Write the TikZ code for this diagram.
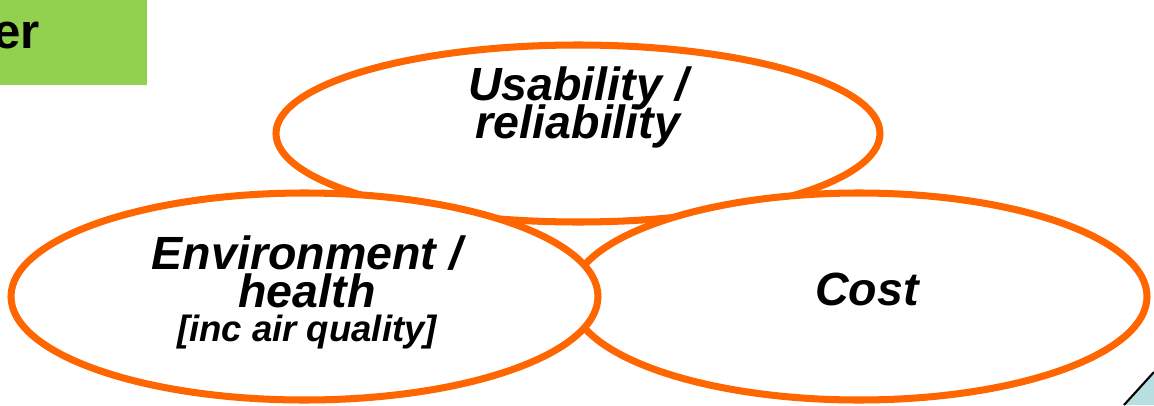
\documentclass[tikz,border=0pt]{standalone}
\usepackage{fontspec}
\setmainfont{Liberation Sans}
\usetikzlibrary{shapes.geometric}
\definecolor{ringorange}{RGB}{255,102,0}
\definecolor{tabgreen}{RGB}{146,208,80}
\definecolor{cornerblue}{RGB}{185,222,226}
\begin{document}
\begin{tikzpicture}[
  ring/.style={ellipse, draw=ringorange, line width=4pt, fill=white, inner sep=0pt},
  ringtext/.style={align=center, inner sep=0pt, font={\fontsize{26.5}{21.8}\selectfont\bfseries\itshape\lineskiplimit=-30pt}}
]
\useasboundingbox (0,0) rectangle (23.08,8.1);
% green tab, top left
\fill[tabgreen] (0,8.1) rectangle (2.94,6.4);
\node[anchor=base east, inner sep=0pt, font={\fontsize{28}{32}\selectfont\bfseries}] (tab) at (0.8,7.14) {er};
% three rings, top one underneath
\node[ring, minimum width=12.08cm, minimum height=3.54cm] (usab) at (11.56,5.43) {};
\node[ring, minimum width=11.52cm, minimum height=4.14cm] (cost) at (17.18,2.17) {};
\node[ring, minimum width=11.74cm, minimum height=4.14cm] (env) at (6.09,2.17) {};
\node[ringtext] (usabtxt) at ([yshift=0.52cm]usab.center) {Usability /\\reliability};
\node[ringtext] (envtxt) at ([shift={(0.05,0.08)}]env.center) {Environment /\\health\\[-2.6pt]{\fontsize{20.8}{18.8}\selectfont [inc air quality]}};
\node[ringtext, anchor=base] (costtxt) at (17.34,2.0) {Cost};
% corner of the next shape, bottom right
\fill[cornerblue] (22.48,0) -- (23.08,0.66) -- (23.08,0) -- cycle;
\draw[line width=1.2pt] (22.48,0) -- (23.08,0.66);
\end{tikzpicture}
\end{document}
